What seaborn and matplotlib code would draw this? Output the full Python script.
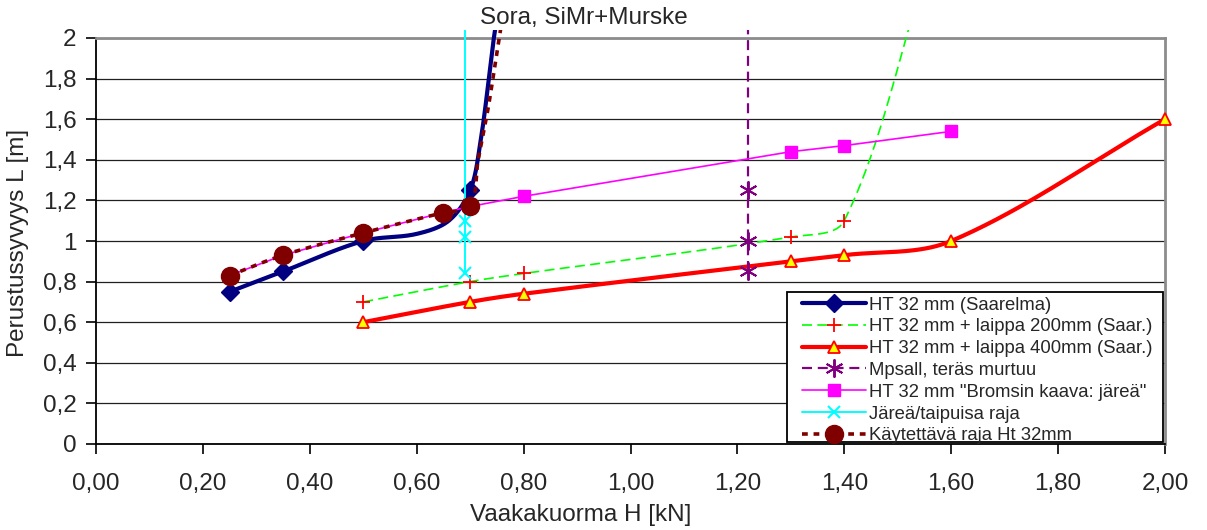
import numpy as np
import matplotlib
matplotlib.use("Agg")
import matplotlib.pyplot as plt
import matplotlib.patches as mpatches
from matplotlib.lines import Line2D
from matplotlib.ticker import FixedLocator, FixedFormatter
import seaborn as sns

# ---------------- data ----------------
navy_x = [0.25, 0.35, 0.50, 0.60, 0.66, 0.70, 0.718, 0.737, 0.746, 0.77]
navy_y = [0.75, 0.85, 1.00, 1.035, 1.10, 1.25, 1.465, 1.84, 2.03, 2.40]
navy_marked = [0, 1, 2, 5]

green_x = [0.50, 0.70, 0.80, 1.30, 1.40, 1.56]
green_y = [0.70, 0.80, 0.84, 1.02, 1.10, 2.40]

red_x = [0.50, 0.70, 0.80, 1.30, 1.40, 1.60, 2.00]
red_y = [0.60, 0.70, 0.74, 0.90, 0.93, 1.00, 1.60]

purple_x = [1.22, 1.22, 1.22, 1.22]
purple_y = [0.85, 1.00, 1.25, 2.40]

magenta_x = [0.25, 0.35, 0.50, 0.65, 0.70, 0.80, 1.30, 1.40, 1.60]
magenta_y = [0.83, 0.93, 1.04, 1.14, 1.17, 1.22, 1.44, 1.47, 1.54]

cyan_x = [0.69, 0.69, 0.69, 0.69]
cyan_y = [0.84, 1.02, 1.10, 2.40]

darkred_x = [0.25, 0.35, 0.50, 0.65, 0.70, 0.715, 0.734, 0.756, 0.78]
darkred_y = [0.83, 0.93, 1.04, 1.14, 1.17, 1.40, 1.66, 2.03, 2.40]
darkred_marked = [0, 1, 2, 3, 4]

labels = [
    "HT 32 mm (Saarelma)",
    "HT 32 mm + laippa 200mm (Saar.)",
    "HT 32 mm + laippa 400mm (Saar.)",
    "Mpsall, teräs murtuu",
    "HT 32 mm \"Bromsin kaava: järeä\"",
    "Järeä/taipuisa raja",
    "Käytettävä raja Ht 32mm",
]

x_ticks = [0.0, 0.2, 0.4, 0.6, 0.8, 1.0, 1.2, 1.4, 1.6, 1.8, 2.0]
x_ticklabels = ["0,00", "0,20", "0,40", "0,60", "0,80", "1,00", "1,20", "1,40", "1,60", "1,80", "2,00"]
y_ticks = [0.0, 0.2, 0.4, 0.6, 0.8, 1.0, 1.2, 1.4, 1.6, 1.8, 2.0]
y_ticklabels = ["0", "0,2", "0,4", "0,6", "0,8", "1", "1,2", "1,4", "1,6", "1,8", "2"]

title = "Sora, SiMr+Murske"
xlabel = "Vaakakuorma H [kN]"
ylabel = "Perustussyvyys L [m]"

# ---------------- style ----------------
sns.set_theme(style="white")
plt.rcParams["font.family"] = ["Liberation Sans", "DejaVu Sans"]

FS = 17.5
LFS = 13.3

W, H = 1207, 530
fig = plt.figure(figsize=(W / 100, H / 100), dpi=100)
ax_l, ax_r, ax_b, ax_t = 96, 1165, 444, 38
ax = fig.add_axes([ax_l / W, 1 - ax_b / H, (ax_r - ax_l) / W, (ax_b - ax_t) / H])
ax.set_xlim(0, 2)
ax.set_ylim(0, 2)

SX = (ax_r - ax_l) / 2.0
SY = (ax_b - ax_t) / 2.0


def smooth(xs, ys, n=40):
    """Excel-like smoothed line: cubic Bezier with neighbour tangents (pixel space)."""
    P = np.column_stack([np.asarray(xs) * SX, np.asarray(ys) * SY])
    m = len(P)
    out = [P[0]]
    for i in range(m - 1):
        p0, p1 = P[i], P[i + 1]
        d = np.linalg.norm(p1 - p0)
        if i > 0:
            dp = np.linalg.norm(p0 - P[i - 1])
            c1 = p0 + (p1 - P[i - 1]) * d / (dp + d) / 3.0
        else:
            c1 = p0 + (p1 - p0) / 3.0
        if i + 2 < m:
            dn = np.linalg.norm(P[i + 2] - p1)
            c2 = p1 - (P[i + 2] - p0) * d / (d + dn) / 3.0
        else:
            c2 = p1 - (p1 - p0) / 3.0
        t = np.linspace(0, 1, n)[1:, None]
        seg = ((1 - t) ** 3) * p0 + 3 * ((1 - t) ** 2) * t * c1 + 3 * (1 - t) * t ** 2 * c2 + t ** 3 * p1
        out.extend(seg)
    out = np.array(out)
    return out[:, 0] / SX, out[:, 1] / SY


line_clip = mpatches.Rectangle((0, 0), 1, 1 + 8 / (ax_b - ax_t), transform=ax.transAxes)
mark_clip = mpatches.Rectangle((-0.03, -0.03), 1.06, 1.0 + 0.03, transform=ax.transAxes)

series = [
    # x, y, marked idx, smooth, color, lw, dashes, marker, ms, mfc, mec, mew
    (navy_x, navy_y, navy_marked, True, "#000080", 3.0, None, "D", 9, "#000080", "#000080", 1),
    (green_x, green_y, None, True, "#00FF00", 1.2, (6.0, 3.2), "+", 10, "none", "#FF0000", 1.3),
    (red_x, red_y, None, True, "#FF0000", 3.0, None, "^", 9, "#FFFF00", "#FF0000", 1.3),
    (purple_x, purple_y, None, False, "#800080", 1.6, (4.5, 2.6), (6, 2, 0), 13, "#800080", "#800080", 1.4),
    (magenta_x, magenta_y, None, False, "#FF00FF", 1.2, None, "s", 8.5, "#FF00FF", "#FF00FF", 1),
    (cyan_x, cyan_y, None, False, "#00FFFF", 1.4, None, "x", 9, "#00FFFF", "#00FFFF", 1.5),
    (darkred_x, darkred_y, darkred_marked, True, "#800000", 2.6, (1.6, 1.6), "o", 13, "#800000", "#800000", 1),
]

handles = []
for k, (xs, ys, marked, sm, col, lw, dsh, mk, ms, mfc, mec, mew) in enumerate(series):
    if sm:
        lx, ly = smooth(xs, ys)
    else:
        lx, ly = np.asarray(xs), np.asarray(ys)
    nbefore = len(ax.lines)
    sns.lineplot(x=lx, y=ly, sort=False, estimator=None, ax=ax, color=col, linewidth=lw,
                 legend=False)
    ln = ax.lines[nbefore]
    ln.set_zorder(3 + k)
    ln.set_solid_capstyle("butt")
    if dsh is not None:
        ln.set_linestyle((0, dsh))
    ln.set_clip_path(line_clip)
    mk_line, = ax.plot(xs, ys, linestyle="none", marker=mk, markersize=ms,
                       markerfacecolor=mfc, markeredgecolor=mec, markeredgewidth=mew,
                       markevery=marked, zorder=3.5 + k)
    mk_line.set_clip_path(mark_clip)
    h = Line2D([], [], color=col, linewidth=lw, linestyle=(0, dsh) if dsh else "-",
               marker=mk, markersize=ms, markerfacecolor=mfc, markeredgecolor=mec,
               markeredgewidth=mew)
    handles.append(h)

# ---------------- axes styling ----------------
ax.xaxis.set_major_locator(FixedLocator(x_ticks))
ax.xaxis.set_major_formatter(FixedFormatter(x_ticklabels))
ax.yaxis.set_major_locator(FixedLocator(y_ticks))
ax.yaxis.set_major_formatter(FixedFormatter(y_ticklabels))
ax.tick_params(axis="x", direction="out", length=7, width=1.2, color="black",
               labelsize=FS, pad=14, bottom=True)
ax.tick_params(axis="y", direction="out", length=7, width=1.2, color="black",
               labelsize=FS, pad=7, left=True)
ax.yaxis.grid(True, color="#202020", linewidth=0.9, zorder=0)
ax.xaxis.grid(False)
ax.set_axisbelow(True)
for s in ["left", "bottom"]:
    ax.spines[s].set_color("black")
    ax.spines[s].set_linewidth(1.3)
for s in ["top", "right"]:
    ax.spines[s].set_color("#8c8c8c")
    ax.spines[s].set_linewidth(2)
ax.set_xlabel("")
ax.set_ylabel("")

# legend box (drawn manually) + legend entries
box_l, box_r, box_t, box_b = 787, 1163, 292, 442
frame = mpatches.Rectangle((box_l / W, 1 - box_b / H), (box_r - box_l) / W, (box_b - box_t) / H,
                           transform=fig.transFigure, facecolor="white", edgecolor="black",
                           linewidth=1.3, zorder=10)
fig.patches.append(frame)
lpx = LFS * 100 / 72
leg = fig.legend(handles, labels, loc="upper left", bbox_to_anchor=(801.5 / W, 1 - 296.5 / H),
                 bbox_transform=fig.transFigure, borderaxespad=0, borderpad=0,
                 fontsize=LFS, frameon=False, handlelength=64.5 / lpx,
                 handletextpad=3.3 / lpx, labelspacing=0.26)
leg.set_zorder(11)

fig.text(584 / W, 1 - 18 / H, title, ha="center", va="center", fontsize=FS)
fig.text(581 / W, 1 - 515 / H, xlabel, ha="center", va="center", fontsize=FS)
fig.text(18 / W, 1 - 243 / H, ylabel, ha="center", va="center", rotation=90, fontsize=FS)

fig.savefig("out.png", dpi=100)
